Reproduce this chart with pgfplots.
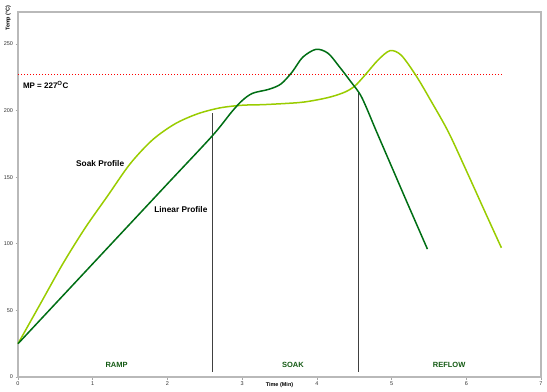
\documentclass[border=0pt]{standalone}
\usepackage{pgfplots}
\pgfplotsset{compat=1.18}
\usepackage{fontspec}
\setmainfont{Liberation Sans}
\definecolor{dkgreen}{RGB}{0,110,20}
\definecolor{ltgreen}{RGB}{153,204,0}
\definecolor{txtgreen}{RGB}{20,90,20}
\begin{document}
\begin{tikzpicture}
\begin{axis}[
  scale only axis, width=523pt, height=365pt,
  xmin=0, xmax=7, ymin=0, ymax=274,
  xtick={0,1,...,7}, ytick={0,50,...,250},
  tick align=outside, major tick length=2.5pt,
  xtick pos=bottom, ytick pos=left,
  tick style={gray!70, line width=0.6pt},
  axis line style={gray!55, line width=1.2pt},
  tick label style={font=\fontsize{5.5}{6}\selectfont, text=black!80},
  /pgf/number format/assume math mode=true,
  xticklabel style={yshift=1pt},
  yticklabel style={xshift=1pt},
  clip=false,
]
% vertical phase lines
\addplot[black!75, line width=0.7pt] coordinates {(2.6,4) (2.6,198)};
\addplot[black!75, line width=0.7pt] coordinates {(4.56,4) (4.56,214)};
% MP line
\addplot[red, dotted, line width=1pt] coordinates {(0,227) (6.5,227)};
% Soak profile
\addplot[ltgreen, line width=1.5pt, smooth, tension=0.5] coordinates {
(0,25) (0.3,55) (0.6,85) (0.9,112) (1.2,136) (1.5,160) (1.8,178)
(2.1,190) (2.4,197.5) (2.7,202) (3.0,204)
(3.3,204.5) (3.76,206) (4.0,208)
(4.2,210.5) (4.38,214) (4.51,218.5) (4.65,227) (4.82,238) (4.98,245)
(5.13,241.5) (5.33,226) (5.53,207) (5.76,184) (6.0,155) (6.25,124) (6.47,97)};
% Linear profile
\addplot[dkgreen, line width=1.5pt, smooth, tension=0.5] coordinates {
(0,25) (1,85) (2,145) (2.6,181) (2.86,199) (3.0,207.5) (3.14,213)
(3.36,216) (3.52,220) (3.67,229) (3.81,240) (3.99,246) (4.15,243)
(4.3,233) (4.45,222) (4.6,210) (4.8,184) (5.0,158) (5.2,132) (5.48,96)};
\node[font=\fontsize{8}{9}\selectfont\bfseries, anchor=west] at (axis cs:0.02,219.5) {MP = 227\textsuperscript{O}C};
\node[font=\fontsize{8.3}{9}\selectfont\bfseries] at (axis cs:1.1,160.6) {Soak Profile};
\node[font=\fontsize{8.3}{9}\selectfont\bfseries] at (axis cs:2.18,125.6) {Linear Profile};
\node[font=\fontsize{7.5}{8}\selectfont\bfseries, text=txtgreen] at (axis cs:1.32,8.8) {RAMP};
\node[font=\fontsize{7.5}{8}\selectfont\bfseries, text=txtgreen] at (axis cs:3.68,8.8) {SOAK};
\node[font=\fontsize{7.5}{8}\selectfont\bfseries, text=txtgreen] at (axis cs:5.77,8.8) {REFLOW};
\node[font=\fontsize{5.5}{6}\selectfont\bfseries, anchor=north] at (rel axis cs:0.5,0) [yshift=-2pt] {Time (Min)};
\node[font=\fontsize{5.5}{6}\selectfont\bfseries, rotate=90, anchor=south east] at (rel axis cs:-0.007,1.028) {Temp (\textdegree C)};
\end{axis}
\path (current axis.south west) ++(-18pt,-14pt) rectangle ([shift={(6pt,12pt)}]current axis.north east);
\end{tikzpicture}
\end{document}
